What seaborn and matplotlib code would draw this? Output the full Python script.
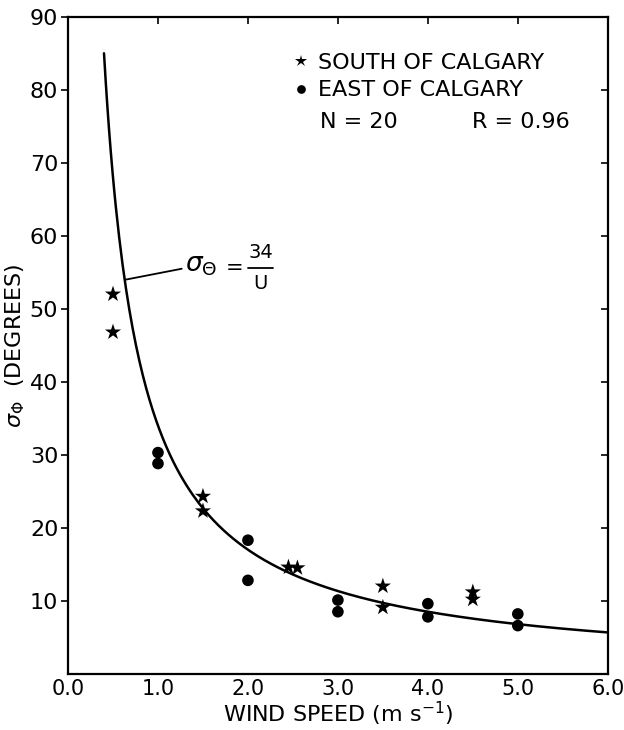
import numpy as np
import pandas as pd
import matplotlib
matplotlib.use("Agg")
import matplotlib.pyplot as plt
import seaborn as sns

# data
south_u = [0.5, 0.5, 1.5, 1.5, 2.45, 2.55, 3.5, 3.5, 4.5, 4.5]
south_sigma = [52.0, 46.8, 24.3, 22.3, 14.6, 14.5, 12.0, 9.1, 11.2, 10.2]
east_u = [1.0, 1.0, 2.0, 2.0, 3.0, 3.0, 4.0, 4.0, 5.0, 5.0]
east_sigma = [30.3, 28.8, 18.3, 12.8, 10.1, 8.5, 9.6, 7.8, 8.2, 6.6]
fit_const = 34.0
fit_u = np.linspace(0.4, 6.0, 300)

x_ticks = [0, 1, 2, 3, 4, 5, 6]
y_ticks = [10, 20, 30, 40, 50, 60, 70, 80, 90]

df = pd.DataFrame({
    "u": south_u + east_u,
    "sigma": south_sigma + east_sigma,
    "site": ["SOUTH OF CALGARY"] * len(south_u) + ["EAST OF CALGARY"] * len(east_u),
})
fit = pd.DataFrame({"u": fit_u, "sigma": fit_const / fit_u})

sns.set_style("white")
plt.rcParams["font.family"] = ["DejaVu Sans"]
plt.rcParams["text.color"] = "black"
plt.rcParams["axes.labelcolor"] = "black"
plt.rcParams["xtick.color"] = "black"
plt.rcParams["ytick.color"] = "black"

fig = plt.figure(figsize=(6.24, 7.3), dpi=100)
ax = fig.add_axes([0.109, 0.077, 0.865, 0.900])

sns.lineplot(data=fit, x="u", y="sigma", color="black", linewidth=1.8, ax=ax)
sns.scatterplot(data=df, x="u", y="sigma", style="site", hue="site",
                markers={"SOUTH OF CALGARY": "*", "EAST OF CALGARY": "o"},
                palette={"SOUTH OF CALGARY": "black", "EAST OF CALGARY": "black"},
                size="site", sizes={"SOUTH OF CALGARY": 150, "EAST OF CALGARY": 70},
                edgecolor="black", linewidth=0, ax=ax)

ax.set_xlim(0, 6)
ax.set_ylim(0, 90)
ax.set_xticks(x_ticks)
ax.set_xticklabels([f"{t:.1f}" for t in x_ticks])
ax.set_yticks(y_ticks)
ax.tick_params(axis="x", which="both", direction="in", length=5, width=1.2,
               labelsize=15, top=True, pad=4)
ax.tick_params(axis="y", which="both", direction="out", length=5, width=1.2,
               labelsize=16, pad=2)
ax.yaxis.set_ticks_position("both")
for t in ax.yaxis.get_major_ticks():
    t.tick2line.set_marker(matplotlib.lines.TICKLEFT)
for s in ax.spines.values():
    s.set_linewidth(1.6)
    s.set_color("black")

ax.set_xlabel("WIND SPEED (m s$^{-1}$)", fontsize=16, labelpad=0)
ax.set_ylabel(r"$\sigma_\Phi$  (DEGREES)", fontsize=16, labelpad=2)

handles, labels = ax.get_legend_handles_labels()
leg = ax.legend(handles, labels, loc="upper left", bbox_to_anchor=(0.37, 0.975),
                frameon=False, fontsize=16, handletextpad=0.15, labelspacing=0.32,
                handlelength=1.2, markerscale=0.75)
ax.text(0.466, 0.84, "N = 20", transform=ax.transAxes, fontsize=16, va="center")
ax.text(0.748, 0.84, "R = 0.96", transform=ax.transAxes, fontsize=16, va="center")

ax.annotate(r"$\sigma_\Theta$", xy=(0.63, fit_const / 0.63), xytext=(1.3, 56.0),
            fontsize=19, va="center",
            arrowprops=dict(arrowstyle="-", color="black", lw=1.3, shrinkA=0, shrinkB=0))
ax.text(1.85, 55.6, "=", fontsize=15, ha="center", va="center")
ax.text(2.14, 57.7, "34", fontsize=14, ha="center", va="center")
ax.plot([2.0, 2.28], [55.6, 55.6], color="black", lw=1.3)
ax.text(2.14, 53.4, "U", fontsize=14, ha="center", va="center")

fig.savefig("out.png", dpi=100)
